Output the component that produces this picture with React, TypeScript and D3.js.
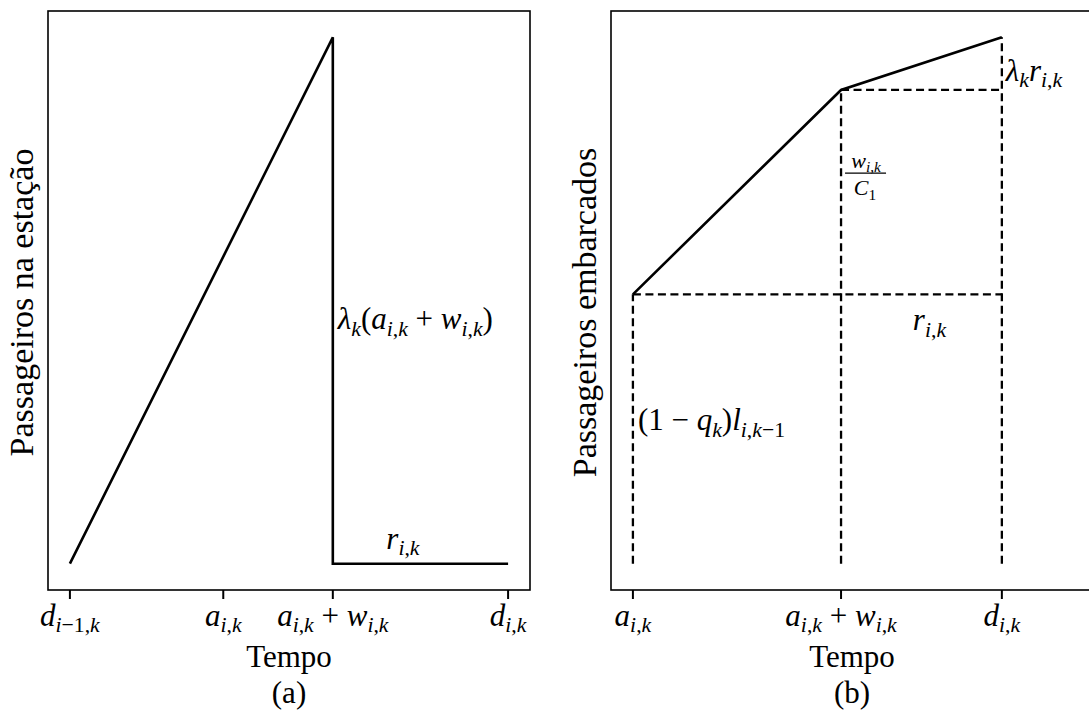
import React from "react";
import * as d3 from "d3";

const FONT = "'Liberation Serif', 'DejaVu Serif', 'Times New Roman', serif";

// Panel (a): passengers waiting at the station
const stationTicks = [0, 3.5, 6, 10];
const stationX = [0, 6, 6, 10];
const stationY = [0, 6, 0, 0];

// Panel (b): passengers on board
const boardTicks = [0, 4.75, 8.42];
const boardX = [0, 4.75, 8.42];
const boardY = [3.07, 5.4, 6.0];

type Part = { t: string; k: "i" | "r" | "s" | "sr" };
const I = (t: string): Part => ({ t, k: "i" });
const R = (t: string): Part => ({ t, k: "r" });
const S = (t: string): Part => ({ t, k: "s" });
const SR = (t: string): Part => ({ t, k: "sr" });

const stationTickLabels: Part[][] = [
  [I("d"), S("i"), SR("−1"), SR(","), S("k")],
  [I("a"), S("i"), SR(","), S("k")],
  [I("a"), S("i"), SR(","), S("k"), R(" + "), I("w"), S("i"), SR(","), S("k")],
  [I("d"), S("i"), SR(","), S("k")],
];
const boardTickLabels: Part[][] = [
  [I("a"), S("i"), SR(","), S("k")],
  [I("a"), S("i"), SR(","), S("k"), R(" + "), I("w"), S("i"), SR(","), S("k")],
  [I("d"), S("i"), SR(","), S("k")],
];

const peakLabel: Part[] = [I("λ"), S("k"), R("("), I("a"), S("i"), SR(","), S("k"), R(" + "), I("w"), S("i"), SR(","), S("k"), R(")")];
const rLabel: Part[] = [I("r"), S("i"), SR(","), S("k")];
const lambdaRLabel: Part[] = [I("λ"), S("k"), I("r"), S("i"), SR(","), S("k")];
const carryLabel: Part[] = [R("(1 − "), I("q"), S("k"), R(")"), I("l"), S("i"), SR(","), S("k"), SR("−1")];
const fracNum: Part[] = [I("w"), S("i"), SR(","), S("k")];
const fracDen: Part[] = [I("C"), SR("1")];

function MathText({ x, y, parts, size, anchor = "start" }: { x: number; y: number; parts: Part[]; size: number; anchor?: string }) {
  const sub = size * 0.7;
  const shift = size * 0.2;
  let inSub = false;
  return (
    <text x={x} y={y} fontSize={size} textAnchor={anchor} fontFamily={FONT} fill="#000">
      {parts.map((p, i) => {
        const isSub = p.k === "s" || p.k === "sr";
        let dy = 0;
        if (isSub && !inSub) dy = shift;
        if (!isSub && inSub) dy = -shift;
        inSub = isSub;
        return (
          <tspan key={i} dy={dy || undefined} fontSize={isSub ? sub : size} fontStyle={p.k === "i" || p.k === "s" ? "italic" : "normal"}>
            {p.t}
          </tspan>
        );
      })}
    </text>
  );
}

const W = 1089;
const H = 711;
const TOP = 11;
const BOTTOM = 590;
const PANEL_W = 482;
const LEFT_A = 48;
const LEFT_B = 611;

export default function App() {
  const xA = d3.scaleLinear().domain([-0.5, 10.5]).range([LEFT_A, LEFT_A + PANEL_W]);
  const xB = d3.scaleLinear().domain([-0.5, 10.5]).range([LEFT_B, LEFT_B + PANEL_W]);
  const y = d3.scaleLinear().domain([-0.3, 6.3]).range([BOTTOM, TOP]);

  const line = (xs: d3.ScaleLinear<number, number>, X: number[], Y: number[]) =>
    d3.line<number>().x((_, i) => xs(X[i])).y((_, i) => y(Y[i]))(X) || "";

  const dash = "8,4.5";
  const dashW = 2.3;
  const mathSize = 31;
  const tickLabelY = 626;
  const kneeX = xB(boardX[1]);

  return (
    <svg width={W} height={H} style={{ position: "absolute", left: 0, top: 0, background: "#fff" }}>
      <rect x={0} y={0} width={W} height={H} fill="#fff" />

      {/* Panel (a) */}
      <rect x={LEFT_A} y={TOP} width={PANEL_W} height={BOTTOM - TOP} fill="none" stroke="#000" strokeWidth={1.6} />
      <path d={line(xA, stationX, stationY)} fill="none" stroke="#000" strokeWidth={2.6} strokeLinejoin="miter" />
      {stationTicks.map((t, i) => (
        <g key={i}>
          <line x1={xA(t)} x2={xA(t)} y1={BOTTOM} y2={BOTTOM + 9} stroke="#000" strokeWidth={2} />
          <MathText x={xA(t)} y={tickLabelY} parts={stationTickLabels[i]} size={mathSize} anchor="middle" />
        </g>
      ))}
      <MathText x={xA(6) + 5} y={y(2.67)} parts={peakLabel} size={mathSize} />
      <MathText x={xA(7.6)} y={y(0.17)} parts={rLabel} size={mathSize} anchor="middle" />
      <text x={xA(5)} y={667} fontSize={31} fontFamily={FONT} textAnchor="middle">Tempo</text>
      <text x={xA(5)} y={703} fontSize={31} fontFamily={FONT} textAnchor="middle">(a)</text>
      <text transform={`translate(33,${(TOP + BOTTOM) / 2 + 2}) rotate(-90)`} fontSize={34} fontFamily={FONT} textAnchor="middle">
        Passageiros na estação
      </text>

      {/* Panel (b) */}
      <rect x={LEFT_B} y={TOP} width={PANEL_W} height={BOTTOM - TOP} fill="none" stroke="#000" strokeWidth={1.6} />
      {/* dashed guides */}
      <line x1={xB(boardX[0])} x2={xB(boardX[2])} y1={y(boardY[0])} y2={y(boardY[0])} stroke="#000" strokeWidth={dashW} strokeDasharray={dash} />
      <line x1={xB(boardX[1])} x2={xB(boardX[2])} y1={y(boardY[1])} y2={y(boardY[1])} stroke="#000" strokeWidth={dashW} strokeDasharray={dash} />
      {boardX.map((bx, i) => (
        <line key={i} x1={xB(bx)} x2={xB(bx)} y1={y(0)} y2={y(boardY[i])} stroke="#000" strokeWidth={dashW} strokeDasharray={dash} />
      ))}
      <path d={line(xB, boardX, boardY)} fill="none" stroke="#000" strokeWidth={2.6} />
      {boardTicks.map((t, i) => (
        <g key={i}>
          <line x1={xB(t)} x2={xB(t)} y1={BOTTOM} y2={BOTTOM + 9} stroke="#000" strokeWidth={2} />
          <MathText x={xB(t)} y={tickLabelY} parts={boardTickLabels[i]} size={mathSize} anchor="middle" />
        </g>
      ))}
      <MathText x={xB(boardX[2]) + 4} y={y(5.5)} parts={lambdaRLabel} size={mathSize} />
      <MathText x={(xB(boardX[1]) + xB(boardX[2])) / 2 + 8} y={y(2.66)} parts={rLabel} size={mathSize} anchor="middle" />
      <MathText x={xB(boardX[0]) + 5} y={y(1.52)} parts={carryLabel} size={mathSize} />
      {/* fraction w/C1 */}
      <g>
        <MathText x={kneeX + 25} y={y(4.51)} parts={fracNum} size={22} anchor="middle" />
        <line x1={kneeX + 4} x2={kneeX + 45} y1={y(4.453)} y2={y(4.453)} stroke="#000" strokeWidth={1.3} />
        <MathText x={kneeX + 24} y={y(4.2)} parts={fracDen} size={22} anchor="middle" />
      </g>
      <text x={xB(5)} y={667} fontSize={31} fontFamily={FONT} textAnchor="middle">Tempo</text>
      <text x={xB(5)} y={703} fontSize={31} fontFamily={FONT} textAnchor="middle">(b)</text>
      <text transform={`translate(596,${(TOP + BOTTOM) / 2 + 12}) rotate(-90)`} fontSize={34} fontFamily={FONT} textAnchor="middle">
        Passageiros embarcados
      </text>
    </svg>
  );
}
